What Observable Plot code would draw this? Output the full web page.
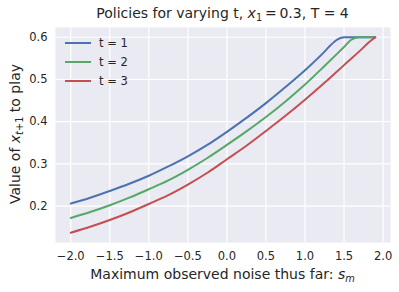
<!DOCTYPE html>
<html>
<head>
<meta charset="utf-8">
<script src="https://cdn.jsdelivr.net/npm/d3@7"></script>
<script src="https://cdn.jsdelivr.net/npm/@observablehq/plot@0.6"></script>
<style>
  html, body { margin: 0; padding: 0; background: white; }
  #wrap { position: relative; width: 399px; height: 292px; font-family: "DejaVu Sans", sans-serif; color: #262626; }
  #wrap > svg { position: absolute; left: 0; top: 0; }
  .ov { position: absolute; white-space: nowrap; line-height: 16px; }
  .sub { font-size: 0.7em; position: relative; top: 0.3em; }
  #legend { position: absolute; left: 65px; top: 33px; font-size: 11.5px; }
  .li { position: absolute; left: 0; height: 19px; display: flex; align-items: center; white-space: nowrap; }
  .li svg { margin-right: 8px; }
</style>
</head>
<body>
<div id="wrap"></div>
<script>
const seriesNames = ["t = 1", "t = 2", "t = 3"];
const seriesColors = ["#4C72B0", "#55A868", "#C44E52"];

const x1 = [-2, -1.75, -1.5, -1.25, -1, -0.75, -0.5, -0.25, 0, 0.25, 0.5, 0.75, 1.0, 1.25, 1.3, 1.4, 1.5, 1.75, 1.9];
const y1 = [0.206, 0.220, 0.236, 0.253, 0.272, 0.294, 0.318, 0.345, 0.376, 0.409, 0.444, 0.482, 0.522, 0.566, 0.576, 0.593, 0.600, 0.600, 0.600];

const x2 = [-2, -1.75, -1.5, -1.25, -1, -0.75, -0.5, -0.25, 0, 0.25, 0.5, 0.75, 1.0, 1.25, 1.5, 1.6, 1.7, 1.9];
const y2 = [0.172, 0.186, 0.202, 0.220, 0.240, 0.261, 0.286, 0.314, 0.345, 0.377, 0.411, 0.448, 0.488, 0.532, 0.577, 0.595, 0.600, 0.600];

const x3 = [-2, -1.75, -1.5, -1.25, -1, -0.75, -0.5, -0.25, 0, 0.25, 0.5, 0.75, 1.0, 1.25, 1.5, 1.75, 1.8, 1.9];
const y3 = [0.137, 0.151, 0.167, 0.185, 0.205, 0.226, 0.251, 0.279, 0.311, 0.343, 0.378, 0.414, 0.452, 0.492, 0.534, 0.576, 0.585, 0.600];

const xTicks = [-2.0, -1.5, -1.0, -0.5, 0.0, 0.5, 1.0, 1.5, 2.0];
const yTicks = [0.2, 0.3, 0.4, 0.5, 0.6];

const xs = [x1, x2, x3], ys = [y1, y2, y3];
const data = [];
seriesNames.forEach((name, i) => xs[i].forEach((xv, j) => data.push({series: name, x: xv, y: ys[i][j]})));

const xExt = d3.extent(data, d => d.x), yExt = d3.extent(data, d => d.y);
const xPad = (xExt[1] - xExt[0]) * 0.05, yPad = (yExt[1] - yExt[0]) * 0.05;
const fmt = d3.format(".1f");

const chart = Plot.plot({
  width: 399, height: 292,
  marginLeft: 55, marginRight: 9, marginTop: 27, marginBottom: 50,
  style: { background: "transparent", fontFamily: "DejaVu Sans", fontSize: "11.5px", color: "#262626" },
  x: { domain: [xExt[0] - xPad, xExt[1] + xPad] },
  y: { domain: [yExt[0] - yPad, yExt[1] + yPad] },
  color: { domain: seriesNames, range: seriesColors },
  marks: [
    Plot.frame({ fill: "#EAEAF2", stroke: null }),
    Plot.gridX(xTicks, { stroke: "white", strokeOpacity: 1, strokeWidth: 1.2 }),
    Plot.gridY(yTicks, { stroke: "white", strokeOpacity: 1, strokeWidth: 1.2 }),
    Plot.axisX(xTicks, { tickSize: 0, tickPadding: 9, tickFormat: fmt, label: null, fill: "#262626" }),
    Plot.axisY(yTicks, { tickSize: 0, tickPadding: 8, tickFormat: fmt, label: null, fill: "#262626" }),
    Plot.line(data, { x: "x", y: "y", z: "series", stroke: "series", strokeWidth: 2, curve: "monotone-x" })
  ]
});

const wrap = document.getElementById("wrap");
wrap.appendChild(chart);

const title = document.createElement("div");
title.className = "ov";
title.style.cssText = "left:55px; width:335px; top:5px; text-align:center; font-size:14px;";
title.innerHTML = 'Policies for varying t, <i>x</i><span class="sub">1</span>&thinsp;=&thinsp;0.3, T = 4';
wrap.appendChild(title);

const xl = document.createElement("div");
xl.className = "ov";
xl.style.cssText = "left:55px; width:335px; top:266px; text-align:center; font-size:14px;";
xl.innerHTML = 'Maximum observed noise thus far: <i>s</i><span class="sub"><i>m</i></span>';
wrap.appendChild(xl);

const yl = document.createElement("div");
yl.className = "ov";
yl.style.cssText = "left:16px; top:134px; font-size:14px; transform: translate(-50%, -50%) rotate(-90deg); transform-origin: center;";
yl.innerHTML = 'Value of <i>x</i><span class="sub"><i>t</i>+1</span> to play';
wrap.appendChild(yl);

const legend = document.createElement("div");
legend.id = "legend";
seriesNames.forEach((name, i) => {
  const row = document.createElement("div");
  row.className = "li";
  row.style.top = (i * 19) + "px";
  row.innerHTML = `<svg width="26" height="4"><line x1="0" x2="26" y1="2" y2="2" stroke="${seriesColors[i]}" stroke-width="2"/></svg><span>${name}</span>`;
  legend.appendChild(row);
});
wrap.appendChild(legend);
</script>
</body>
</html>
